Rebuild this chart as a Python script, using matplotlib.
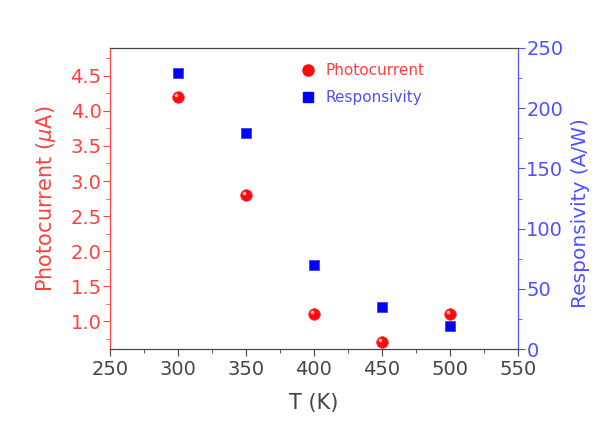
import matplotlib
matplotlib.use("Agg")
import matplotlib.pyplot as plt
import matplotlib.transforms as mtransforms
from matplotlib.ticker import MultipleLocator
from matplotlib.lines import Line2D

T = [300, 350, 400, 450, 500]
photocurrent = [4.2, 2.8, 1.1, 0.7, 1.1]
responsivity = [229, 179, 70, 35, 19]

plt.rcParams['font.family'] = ['DejaVu Sans']
plt.rcParams['mathtext.fontset'] = 'dejavusans'

RED = '#ff4040'
BLUE_TXT = '#5050ff'
BLUE = '#0000ff'
GRAY = '#444444'

fig = plt.figure(figsize=(6, 4.21), dpi=100)
ax = fig.add_axes([0.1833, 0.171, 0.68, 0.715])
ax2 = ax.twinx()

ax.scatter(T, photocurrent, s=70, color='#ff0a0a', edgecolors='#ff3030', linewidths=0.5, zorder=3)
hl = ax.transData + mtransforms.ScaledTranslation(-1.5/72, 1.5/72, fig.dpi_scale_trans)
ax.scatter(T, photocurrent, s=7, color='#ffb0b0', linewidths=0, zorder=4, transform=hl)
ax2.scatter(T, responsivity, s=48, marker='s', color=BLUE, edgecolors='#3030ff', linewidths=0.5, zorder=3)

ax.set_xlim(250, 550)
ax.set_ylim(0.6, 4.9)
ax2.set_ylim(0, 250)

ax.xaxis.set_major_locator(MultipleLocator(50))
ax.xaxis.set_minor_locator(MultipleLocator(25))
ax.yaxis.set_major_locator(MultipleLocator(0.5))
ax.yaxis.set_minor_locator(MultipleLocator(0.25))
ax2.yaxis.set_major_locator(MultipleLocator(50))
ax2.yaxis.set_minor_locator(MultipleLocator(25))

fs = 14
ax.tick_params(axis='x', which='both', direction='out', colors=GRAY, labelsize=fs, labelcolor=GRAY)
ax.tick_params(axis='x', which='major', length=5, pad=3)
ax.tick_params(axis='x', which='minor', length=3)
ax.tick_params(axis='y', which='both', direction='out', colors=RED, labelsize=fs, labelcolor=RED)
ax.tick_params(axis='y', which='major', length=5, pad=1)
ax.tick_params(axis='y', which='minor', length=3)
ax2.tick_params(axis='y', which='both', direction='out', colors=BLUE_TXT, labelsize=fs, labelcolor=BLUE_TXT)
ax2.tick_params(axis='y', which='major', length=5, pad=1)
ax2.tick_params(axis='y', which='minor', length=3)

for a in (ax, ax2):
    a.spines['top'].set_color(GRAY)
    a.spines['bottom'].set_color(GRAY)
    a.spines['left'].set_color(RED)
    a.spines['right'].set_color(BLUE_TXT)

ax.set_xlabel('T (K)', fontsize=15, color=GRAY, labelpad=10)
ax.set_ylabel('Photocurrent ($\\mu$A)', fontsize=15, color=RED, labelpad=9)
ax2.set_ylabel('Responsivity (A/W)', fontsize=14.5, color=BLUE_TXT, labelpad=5)
ax2.yaxis.set_label_coords(1.13, 0.45)

handles = [
    Line2D([], [], marker='o', linestyle='none', markersize=8, color='#ff0a0a'),
    Line2D([], [], marker='s', linestyle='none', markersize=7, color=BLUE),
]
leg = ax.legend(handles, ['Photocurrent', 'Responsivity'], loc='upper left',
                bbox_to_anchor=(0.415, 0.995), frameon=False, fontsize=11,
                handletextpad=0.15, labelspacing=0.8)
leg.get_texts()[0].set_color(RED)
leg.get_texts()[1].set_color(BLUE_TXT)

fig.savefig('out.png', dpi=100)
